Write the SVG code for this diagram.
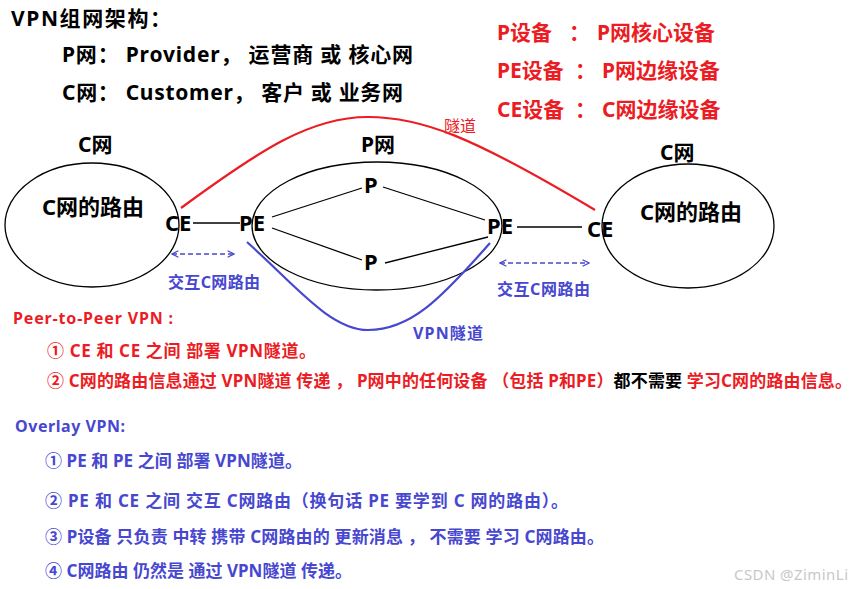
<svg xmlns="http://www.w3.org/2000/svg" width="851" height="589" viewBox="0 0 851 589" xml:space="preserve">
<defs>
<style>
text{font-family:"Noto Sans","Noto Sans CJK SC",sans-serif;font-weight:bold}
.nw{font-weight:normal}
.blk{fill:#000}
.red{fill:#ec1c24}
.blu{fill:#4747cf}
.h1{font-size:21px}
.lab{font-size:21px}
.dev{font-size:22px}
.t16{font-size:16px}
.t17{font-size:17px}
.ell{fill:none;stroke:#000;stroke-width:1.3}
.ln{stroke:#000;stroke-width:1.3;fill:none}
.arr{stroke:#4747cf;stroke-width:1.6;stroke-dasharray:5 3;fill:none;marker-start:url(#chev);marker-end:url(#chev)}
</style>
<marker id="chev" viewBox="0 0 10 10" refX="9" refY="5" markerWidth="8" markerHeight="10" markerUnits="userSpaceOnUse" orient="auto-start-reverse">
<path d="M1,1 L9,5 L1,9" fill="none" stroke="#4747cf" stroke-width="1.6"/>
</marker>
</defs>
<rect width="851" height="589" fill="#fff"/>

<g id="header">
<text x="11" y="26" class="blk" font-size="21" textLength="160" lengthAdjust="spacing">VPN组网架构：</text>
<text x="62" y="62" class="blk h1" textLength="351" lengthAdjust="spacing">P网： Provider， 运营商 或 核心网</text>
<text x="62" y="100" class="blk h1" textLength="341" lengthAdjust="spacing">C网： Customer， 客户 或 业务网</text>
</g>

<g id="legend" class="red">
<text y="40" font-size="21"><tspan x="497">P设备</tspan><tspan x="569">：</tspan><tspan x="597">P网核心设备</tspan></text>
<text y="78" font-size="21"><tspan x="497">PE设备</tspan><tspan x="575">：</tspan><tspan x="602">P网边缘设备</tspan></text>
<text y="117" font-size="21"><tspan x="497">CE设备</tspan><tspan x="575">：</tspan><tspan x="602">C网边缘设备</tspan></text>
</g>

<g id="cnet-left">
<ellipse class="ell" cx="92" cy="225" rx="87" ry="62"/>
<text x="78" y="152" class="blk lab">C网</text>
<text x="42" y="215" class="blk" font-size="22">C网的路由</text>
</g>

<g id="pnet">
<ellipse class="ell" cx="377" cy="226" rx="125" ry="64"/>
<text x="361" y="152" class="blk lab">P网</text>
</g>

<g id="cnet-right">
<ellipse class="ell" cx="688" cy="226" rx="86" ry="62"/>
<text x="660" y="160" class="blk lab">C网</text>
<text x="640" y="220" class="blk" font-size="22">C网的路由</text>
</g>

<g id="ce-left"><text x="165" y="231" class="blk dev">CE</text></g>
<g id="pe-left"><text x="239" y="231" class="blk dev">PE</text></g>
<g id="p-top"><text x="364" y="193" class="blk dev">P</text></g>
<g id="p-bottom"><text x="364" y="270" class="blk dev">P</text></g>
<g id="pe-right"><text x="487" y="234" class="blk dev">PE</text></g>
<g id="ce-right"><text x="587" y="237" class="blk dev">CE</text></g>

<g id="connectors">
<line class="ln" x1="193" y1="223" x2="240" y2="223"/>
<line class="ln" x1="272" y1="217" x2="362" y2="188"/>
<line class="ln" x1="383" y1="187" x2="485" y2="220"/>
<line class="ln" x1="272" y1="228" x2="362" y2="260"/>
<line class="ln" x1="385" y1="263" x2="488" y2="237"/>
<line class="ln" x1="517" y1="227" x2="582" y2="227"/>
<path d="M181,208 C260,150 310,117 368,117 C420,117 470,135 595,210" fill="none" stroke="#ec1c24" stroke-width="2.2"/>
<path d="M247,242 C295,285 330,330 368,330 C410,330 440,300 490,243" fill="none" stroke="#4747cf" stroke-width="2.2"/>
<line class="arr" x1="172" y1="254" x2="234" y2="254"/>
<line class="arr" x1="500" y1="263" x2="589" y2="263"/>
<text x="444" y="132" class="red nw" font-size="16">隧道</text>
<text x="413" y="339" class="blu t16" textLength="70" lengthAdjust="spacing">VPN隧道</text>
<text x="168" y="288" class="blu t16" textLength="92" lengthAdjust="spacing">交互C网路由</text>
<text x="497" y="295" class="blu t16" textLength="93" lengthAdjust="spacing">交互C网路由</text>
</g>

<g id="p2p">
<text x="13" y="324" class="red t16" textLength="160" lengthAdjust="spacing">Peer-to-Peer VPN :</text>
<text x="47" y="357" class="red t17" textLength="269" lengthAdjust="spacing">①  CE 和 CE 之间 部署  VPN隧道。</text>
<text x="47" y="387" class="red t17" textLength="805" lengthAdjust="spacing">②  C网的路由信息通过 VPN隧道 传递 ， P网中的任何设备 （包括 P和PE）<tspan class="blk">都不需要</tspan> 学习C网的路由信息。</text>
</g>

<g id="overlay">
<text x="15" y="432" class="blu t16" textLength="110" lengthAdjust="spacing">Overlay VPN:</text>
<text x="45" y="467" class="blu t17" textLength="257" lengthAdjust="spacing">① PE 和 PE 之间 部署 VPN隧道。</text>
<text x="45" y="507" class="blu t17" textLength="523" lengthAdjust="spacing">② PE 和 CE 之间 交互 C网路由（换句话  PE 要学到 C 网的路由）。</text>
<text x="45" y="543" class="blu t17" textLength="559" lengthAdjust="spacing">③ P设备 只负责 中转 携带 C网路由的 更新消息 ， 不需要 学习 C网路由。</text>
<text x="45" y="577" class="blu t17" textLength="307" lengthAdjust="spacing">④ C网路由 仍然是 通过 VPN隧道 传递。</text>
</g>

<text x="734" y="580" class="nw" font-size="15" fill="#c8c8c8" textLength="114" lengthAdjust="spacing">CSDN @ZiminLi</text>
</svg>
